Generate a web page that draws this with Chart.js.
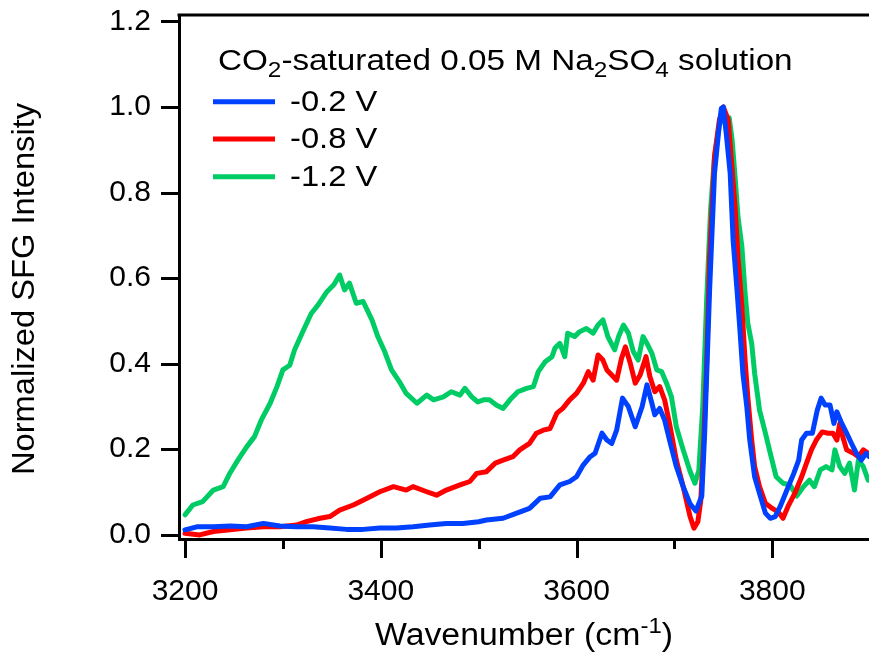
<!DOCTYPE html>
<html>
<head>
<meta charset="utf-8">
<title>Normalized SFG spectra</title>
<script src="https://cdn.jsdelivr.net/npm/chart.js@4.4.1/dist/chart.umd.min.js"></script>
<style>
  html, body { margin: 0; padding: 0; background: #fff; overflow: hidden; }
  #wrap { position: relative; width: 900px; height: 653px; }
</style>
</head>
<body>
<div id="wrap"><canvas id="sfg" width="900" height="653"></canvas></div>
<script>
// Spectra: [wavenumber (cm^-1), normalized SFG intensity]
const SPECTRUM_M02 = [
  [3200,0.011],[3212,0.018],[3229,0.018],[3246,0.020],[3263,0.018],[3280,0.026],[3297,0.020],[3314,0.018],
  [3331,0.018],[3348,0.015],[3365,0.012],[3382,0.012],[3399,0.015],[3416,0.015],[3433,0.018],[3450,0.022],
  [3467,0.026],[3484,0.026],[3500,0.030],[3508,0.034],[3525,0.038],[3539,0.050],[3552,0.061],[3563,0.085],
  [3573,0.088],[3583,0.116],[3593,0.124],[3600,0.135],[3607,0.163],[3614,0.182],[3619,0.190],[3626,0.237],
  [3631,0.221],[3636,0.213],[3641,0.244],[3647,0.319],[3653,0.299],[3660,0.252],[3667,0.299],[3672,0.350],
  [3677,0.307],[3680,0.280],[3685,0.295],[3690,0.268],[3695,0.221],[3702,0.159],[3709,0.112],[3716,0.072],
  [3722,0.055],[3728,0.090],[3731,0.240],[3736,0.572],[3741,0.845],[3745,0.938],[3748,0.997],[3750,1.000],
  [3753,0.938],[3757,0.845],[3760,0.689],[3764,0.572],[3767,0.478],[3770,0.377],[3774,0.299],[3777,0.221],
  [3782,0.135],[3788,0.088],[3793,0.050],[3798,0.038],[3803,0.042],[3808,0.065],[3815,0.104],[3822,0.143],
  [3827,0.174],[3830,0.221],[3835,0.237],[3841,0.237],[3846,0.291],[3850,0.319],[3854,0.303],[3859,0.303],
  [3863,0.260],[3866,0.287],[3871,0.260],[3876,0.237],[3881,0.213],[3886,0.190],[3891,0.174],[3896,0.190],
  [3899,0.182]
];

const SPECTRUM_M08 = [
  [3200,0.003],[3215,-0.001],[3229,0.007],[3246,0.011],[3263,0.015],[3280,0.018],[3297,0.018],[3314,0.022],
  [3324,0.030],[3338,0.038],[3348,0.042],[3358,0.057],[3372,0.069],[3386,0.085],[3399,0.100],[3413,0.112],
  [3426,0.104],[3433,0.112],[3447,0.100],[3457,0.092],[3467,0.104],[3481,0.116],[3491,0.124],[3498,0.143],
  [3508,0.147],[3517,0.167],[3525,0.174],[3535,0.182],[3542,0.198],[3552,0.213],[3559,0.237],[3566,0.244],
  [3573,0.248],[3580,0.284],[3586,0.295],[3593,0.315],[3600,0.330],[3607,0.354],[3612,0.381],[3617,0.361],
  [3622,0.420],[3627,0.408],[3631,0.385],[3636,0.373],[3641,0.361],[3646,0.412],[3650,0.439],[3655,0.400],
  [3660,0.354],[3665,0.373],[3671,0.416],[3675,0.369],[3680,0.334],[3685,0.346],[3690,0.315],[3695,0.260],
  [3702,0.174],[3709,0.112],[3716,0.042],[3720,0.015],[3724,0.030],[3727,0.080],[3730,0.220],[3733,0.400],
  [3736,0.650],[3741,0.884],[3746,0.970],[3750,1.000],[3755,0.970],[3758,0.884],[3762,0.767],[3765,0.650],
  [3769,0.533],[3772,0.416],[3775,0.322],[3779,0.221],[3782,0.159],[3787,0.112],[3793,0.073],[3800,0.061],
  [3806,0.053],[3811,0.038],[3816,0.065],[3823,0.096],[3830,0.135],[3835,0.167],[3840,0.198],[3845,0.221],
  [3851,0.240],[3857,0.237],[3862,0.237],[3866,0.221],[3869,0.260],[3871,0.237],[3876,0.198],[3883,0.190],
  [3888,0.182],[3893,0.198],[3898,0.190]
];

const SPECTRUM_M12 = [
  [3200,0.046],[3208,0.069],[3218,0.077],[3229,0.104],[3239,0.112],[3246,0.144],[3254,0.174],[3263,0.205],
  [3271,0.229],[3278,0.268],[3287,0.307],[3294,0.346],[3300,0.385],[3307,0.396],[3312,0.432],[3321,0.478],
  [3329,0.517],[3336,0.537],[3345,0.568],[3352,0.584],[3358,0.607],[3363,0.572],[3368,0.588],[3375,0.541],
  [3382,0.545],[3391,0.502],[3397,0.463],[3404,0.428],[3411,0.385],[3420,0.354],[3426,0.330],[3437,0.307],
  [3447,0.326],[3454,0.315],[3464,0.322],[3472,0.334],[3481,0.326],[3486,0.342],[3493,0.322],[3499,0.310],
  [3505,0.315],[3511,0.315],[3518,0.303],[3525,0.295],[3532,0.315],[3540,0.334],[3549,0.342],[3556,0.346],
  [3561,0.381],[3568,0.404],[3575,0.416],[3578,0.436],[3583,0.447],[3588,0.416],[3591,0.471],[3598,0.463],
  [3603,0.474],[3610,0.482],[3617,0.471],[3622,0.490],[3627,0.502],[3632,0.463],[3639,0.432],[3643,0.463],
  [3648,0.490],[3653,0.471],[3658,0.428],[3663,0.408],[3668,0.463],[3672,0.447],[3677,0.424],[3682,0.385],
  [3687,0.381],[3692,0.354],[3697,0.322],[3702,0.252],[3709,0.198],[3716,0.148],[3721,0.120],[3725,0.150],
  [3729,0.300],[3733,0.550],[3737,0.760],[3741,0.884],[3746,0.960],[3752,0.975],[3756,0.975],[3759,0.923],
  [3762,0.837],[3765,0.743],[3769,0.673],[3772,0.572],[3775,0.494],[3779,0.447],[3782,0.377],[3787,0.291],
  [3793,0.237],[3798,0.190],[3804,0.135],[3811,0.120],[3818,0.116],[3825,0.090],[3832,0.112],[3838,0.127],
  [3843,0.112],[3849,0.151],[3855,0.159],[3861,0.151],[3864,0.198],[3869,0.159],[3874,0.143],[3879,0.167],
  [3884,0.104],[3888,0.174],[3893,0.159],[3898,0.127]
];

const SERIES_LABELS = ['-0.2 V', '-0.8 V', '-1.2 V'];
const SERIES_COLORS = ['#0040ff', '#ff0000', '#00cc66'];

const X_MAJOR_TICKS = [3200, 3400, 3600, 3800];
const X_MINOR_TICKS = [3300, 3500, 3700, 3900];
const Y_TICKS = [0.0, 0.2, 0.4, 0.6, 0.8, 1.0, 1.2];

const FONT = '"Liberation Sans", Arial, Helvetica, sans-serif';

function toPoints(pairs) { return pairs.map(p => ({ x: p[0], y: p[1] })); }

// Draws a run of text pieces [text, sizePx, baselineShift] widened by sx; returns the end x
function drawRun(ctx, pieces, x, y, sx) {
  ctx.save();
  ctx.translate(x, y);
  ctx.scale(sx, 1);
  let cx = 0;
  pieces.forEach(([s, size, dy]) => {
    ctx.font = size + 'px ' + FONT;
    ctx.fillText(s, cx, dy);
    cx += ctx.measureText(s).width;
  });
  ctx.restore();
  return x + cx * sx;
}
function runWidth(ctx, pieces, sx) {
  let w = 0;
  pieces.forEach(([s, size]) => { ctx.font = size + 'px ' + FONT; w += ctx.measureText(s).width; });
  return w * sx;
}

// Frame top edge, tick marks, axis titles and the in-plot legend
const decorations = {
  id: 'decorations',
  afterDraw(chart) {
    const { ctx, chartArea, scales } = chart;
    const xs = scales.x, ys = scales.y;
    ctx.save();
    ctx.strokeStyle = '#000';
    ctx.lineCap = 'butt';
    ctx.lineWidth = 3;

    ctx.beginPath();
    ctx.moveTo(chartArea.left - 1.5, chartArea.top);
    ctx.lineTo(chartArea.right, chartArea.top);
    ctx.stroke();

    Y_TICKS.forEach(v => {
      const py = Math.round(ys.getPixelForValue(v)) + 0.5;
      ctx.beginPath();
      ctx.moveTo(chartArea.left - 18, py);
      ctx.lineTo(chartArea.left, py);
      ctx.stroke();
    });
    X_MAJOR_TICKS.forEach(v => {
      const px = Math.round(xs.getPixelForValue(v)) + 0.5;
      ctx.beginPath();
      ctx.moveTo(px, chartArea.bottom);
      ctx.lineTo(px, chartArea.bottom + 19);
      ctx.stroke();
    });
    X_MINOR_TICKS.forEach(v => {
      const px = Math.round(xs.getPixelForValue(v)) + 0.5;
      ctx.beginPath();
      ctx.moveTo(px, chartArea.bottom);
      ctx.lineTo(px, chartArea.bottom + 10);
      ctx.stroke();
    });

    ctx.fillStyle = '#000';
    ctx.textAlign = 'left';
    ctx.textBaseline = 'alphabetic';

    // x-axis title with superscript
    const xTitle = [['Wavenumber (cm', 31, 0], ['-1', 22, -12], [')', 31, 0]];
    const xsx = 1.09;
    drawRun(ctx, xTitle, 524 - runWidth(ctx, xTitle, xsx) / 2, 645, xsx);

    // y-axis title
    ctx.save();
    ctx.translate(34, 289);
    ctx.rotate(-Math.PI / 2);
    const yTitle = [['Normalized SFG Intensity', 31, 0]];
    const ysx = 1.054;
    drawRun(ctx, yTitle, -runWidth(ctx, yTitle, ysx) / 2, 0, ysx);
    ctx.restore();

    // legend heading with subscripts
    const heading = [
      ['CO', 30, 0], ['2', 22, 7], ['-saturated 0.05 M Na', 30, 0], ['2', 22, 7],
      ['SO', 30, 0], ['4', 22, 7], [' solution', 30, 0]
    ];
    drawRun(ctx, heading, 218, 70, 1.108);

    // legend entries
    const rows = [101.7, 139, 176.7];
    ctx.textBaseline = 'middle';
    SERIES_LABELS.forEach((lab, i) => {
      ctx.strokeStyle = SERIES_COLORS[i];
      ctx.lineWidth = 5;
      ctx.beginPath();
      ctx.moveTo(213, rows[i]);
      ctx.lineTo(275, rows[i]);
      ctx.stroke();
      drawRun(ctx, [[lab, 30, 0]], 290, rows[i] + 1, 1.09);
    });
    ctx.restore();
  }
};

const seriesData = [SPECTRUM_M02, SPECTRUM_M08, SPECTRUM_M12];

new Chart(document.getElementById('sfg'), {
  type: 'line',
  data: {
    datasets: seriesData.map((d, i) => ({
      label: SERIES_LABELS[i],
      data: toPoints(d),
      borderColor: SERIES_COLORS[i],
      backgroundColor: SERIES_COLORS[i],
      borderWidth: 5,
      borderJoinStyle: 'round',
      borderCapStyle: 'round',
      pointRadius: 0,
      tension: 0,
      fill: false
    }))
  },
  options: {
    responsive: false,
    animation: false,
    devicePixelRatio: 1,
    layout: { padding: { left: 0, top: 15, right: 10, bottom: 0 } },
    plugins: { legend: { display: false }, tooltip: { enabled: false } },
    scales: {
      x: {
        type: 'linear',
        min: 3193.87,
        max: 3920.3,
        afterFit(scale) { scale.height = 114; scale.paddingLeft = 0; scale.paddingRight = 0; },
        afterBuildTicks(scale) { scale.ticks = X_MAJOR_TICKS.map(v => ({ value: v })); },
        grid: { display: false, drawTicks: true, tickLength: 18 },
        border: { display: true, color: '#000', width: 3 },
        ticks: {
          color: '#000',
          padding: 17,
          maxRotation: 0,
          autoSkip: false,
          font: { family: FONT, size: 30 },
          callback: v => String(v)
        }
      },
      y: {
        type: 'linear',
        min: -0.0105,
        max: 1.2152,
        afterFit(scale) { scale.width = 179; scale.paddingTop = 0; scale.paddingBottom = 0; },
        afterBuildTicks(scale) { scale.ticks = Y_TICKS.map(v => ({ value: v })); },
        grid: { display: false, drawTicks: true, tickLength: 18 },
        border: { display: true, color: '#000', width: 3 },
        ticks: {
          color: '#000',
          padding: 10,
          autoSkip: false,
          font: { family: FONT, size: 30 },
          callback: v => Number(v).toFixed(1)
        }
      }
    }
  },
  plugins: [decorations]
});
</script>
</body>
</html>
